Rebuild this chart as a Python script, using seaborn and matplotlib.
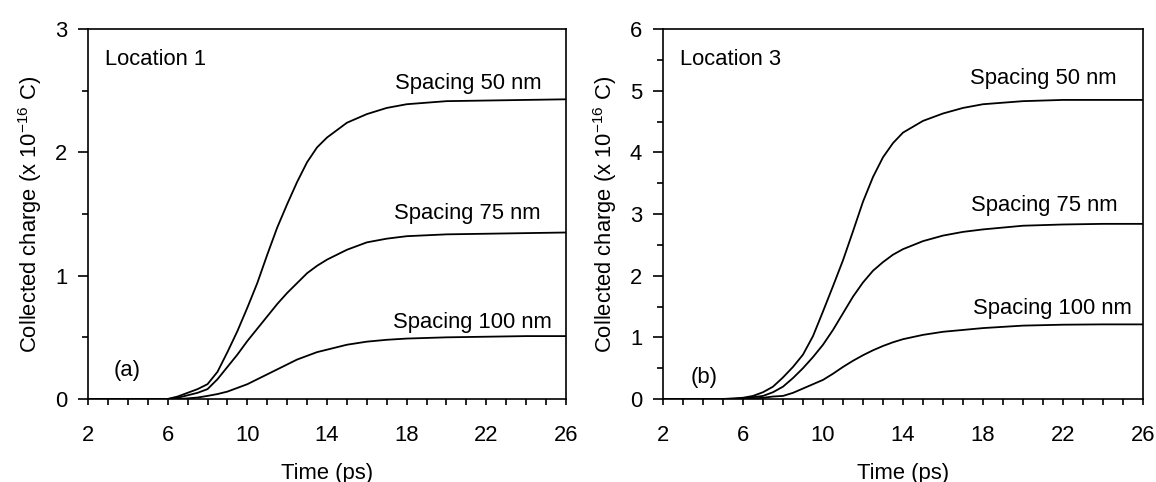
import numpy as np
import pandas as pd
import seaborn as sns
import matplotlib
matplotlib.use("Agg")
import matplotlib.pyplot as plt
from matplotlib.ticker import MultipleLocator

# time axis (ps)
time_ps = [2, 3, 4, 5, 5.5, 6, 6.5, 7, 7.5, 8, 8.5, 9, 9.5, 10, 10.5, 11, 11.5,
           12, 12.5, 13, 13.5, 14, 15, 16, 17, 18, 20, 22, 24, 26]

# collected charge (x 1e-16 C), location 1
loc1_50 = [0, 0, 0, 0, 0, 0, 0.02, 0.05, 0.08, 0.12, 0.22, 0.38, 0.55, 0.74, 0.94,
           1.17, 1.39, 1.58, 1.76, 1.92, 2.04, 2.12, 2.24, 2.31, 2.36, 2.39, 2.415,
           2.42, 2.425, 2.43]
loc1_75 = [0, 0, 0, 0, 0, 0, 0.01, 0.03, 0.05, 0.08, 0.16, 0.26, 0.36, 0.47, 0.57,
           0.67, 0.77, 0.86, 0.94, 1.02, 1.08, 1.13, 1.21, 1.27, 1.30, 1.32, 1.335,
           1.34, 1.345, 1.35]
loc1_100 = [0, 0, 0, 0, 0, 0, 0, 0.005, 0.012, 0.025, 0.04, 0.06, 0.09, 0.12, 0.16,
            0.20, 0.24, 0.28, 0.32, 0.35, 0.38, 0.40, 0.44, 0.465, 0.48, 0.49, 0.50,
            0.505, 0.51, 0.51]

# location 3
loc3_50 = [0, 0, 0, 0, 0.01, 0.02, 0.05, 0.11, 0.2, 0.35, 0.52, 0.72, 1.02, 1.42,
           1.83, 2.25, 2.72, 3.2, 3.6, 3.92, 4.15, 4.32, 4.51, 4.63, 4.72, 4.78,
           4.83, 4.85, 4.85, 4.85]
loc3_75 = [0, 0, 0, 0, 0, 0.01, 0.03, 0.05, 0.11, 0.2, 0.34, 0.5, 0.68, 0.88, 1.12,
           1.39, 1.66, 1.89, 2.08, 2.22, 2.34, 2.43, 2.56, 2.65, 2.71, 2.75, 2.81,
           2.83, 2.84, 2.84]
loc3_100 = [0, 0, 0, 0, 0, 0, 0.01, 0.02, 0.04, 0.05, 0.1, 0.17, 0.24, 0.31, 0.41,
            0.52, 0.62, 0.71, 0.79, 0.86, 0.92, 0.97, 1.04, 1.09, 1.12, 1.15, 1.19,
            1.205, 1.21, 1.21]

spacings = ["Spacing 50 nm", "Spacing 75 nm", "Spacing 100 nm"]
xticks = [2, 6, 10, 14, 18, 22, 26]


def make_df(series):
    frames = []
    for name, vals in zip(spacings, series):
        frames.append(pd.DataFrame({"time": time_ps, "charge": vals, "spacing": name}))
    return pd.concat(frames, ignore_index=True)


df1 = make_df([loc1_50, loc1_75, loc1_100])
df3 = make_df([loc3_50, loc3_75, loc3_100])

sns.set_style("ticks")
plt.rcParams["font.family"] = ["Liberation Sans", "DejaVu Sans"]
plt.rcParams["axes.unicode_minus"] = False
for key in ["text.color", "axes.labelcolor", "xtick.color", "ytick.color"]:
    plt.rcParams[key] = "black"
FS = 15.8

fig = plt.figure(figsize=(11.56, 4.82), dpi=100)
ax1 = fig.add_axes([88 / 1156, 1 - 399 / 482, 478 / 1156, 370 / 482])
ax2 = fig.add_axes([663 / 1156, 1 - 399 / 482, 480 / 1156, 370 / 482])

panels = [
    (ax1, df1, 3, "Location 1", "(a)",
     [(21.1, 2.56), (21.05, 1.50), (21.3, 0.62)], (3.97, 0.23), 2.75),
    (ax2, df3, 6, "Location 3", "(b)",
     [(21.0, 5.2), (21.05, 3.14), (21.45, 1.46)], (4.04, 0.35), 5.5),
]

for ax, df, ymax, loc, tag, lab_pos, tag_pos, loc_y in panels:
    sns.lineplot(data=df, x="time", y="charge", hue="spacing", units="spacing",
                 estimator=None, palette=["black"] * 3, legend=False,
                 linewidth=1.3, ax=ax)
    ax.set_xlim(2, 26)
    ax.set_ylim(0, ymax)
    ax.set_xticks(xticks)
    ax.xaxis.set_minor_locator(MultipleLocator(1))
    ax.yaxis.set_major_locator(MultipleLocator(1))
    ax.yaxis.set_minor_locator(MultipleLocator(0.5))
    ax.tick_params(axis="x", which="both", direction="out", length=4, width=1.2,
                   pad=15, labelsize=FS)
    ax.tick_params(axis="y", which="major", direction="out", length=7, width=1.2,
                   pad=8, labelsize=FS)
    ax.tick_params(axis="y", which="minor", direction="out", length=4, width=1.2)
    for s in ax.spines.values():
        s.set_linewidth(1.2)
        s.set_color("black")
    ax.set_xlabel("Time (ps)", fontsize=FS, labelpad=12)
    ax.set_ylabel(r"Collected charge (x 10$^{\mathregular{-16}}$ C)", fontsize=FS,
                  labelpad=8)
    ax.text(2.85, loc_y, loc, fontsize=FS, va="center", ha="left")
    ax.text(tag_pos[0], tag_pos[1], tag, fontsize=FS, va="center", ha="center")
    for name, (tx, ty) in zip(spacings, lab_pos):
        ax.text(tx, ty, name, fontsize=FS, va="center", ha="center")

fig.savefig("out.png", dpi=100)
